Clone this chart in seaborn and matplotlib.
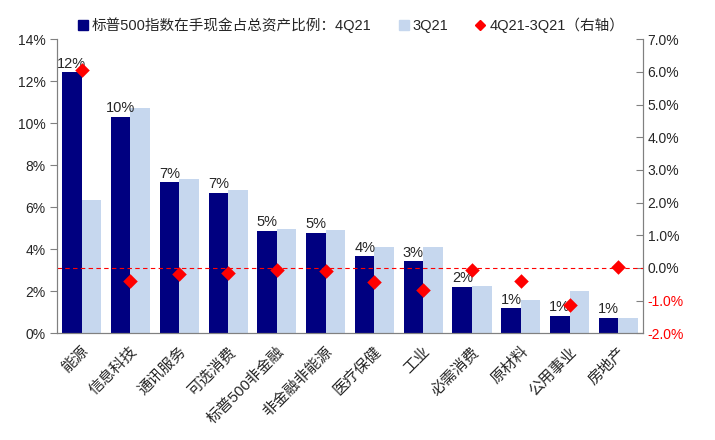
import numpy as np
import pandas as pd
import matplotlib.pyplot as plt
from matplotlib.lines import Line2D
from matplotlib.ticker import FixedLocator
import seaborn as sns

categories = ["能源", "信息科技", "通讯服务", "可选消费", "标普500非金融", "非金融非能源",
              "医疗保健", "工业", "必需消费", "原材料", "公用事业", "房地产"]
q4_21 = [12.44, 10.31, 7.19, 6.70, 4.89, 4.79, 3.68, 3.44, 2.21, 1.19, 0.84, 0.74]
q3_21 = [6.35, 10.71, 7.35, 6.82, 4.95, 4.90, 4.12, 4.12, 2.25, 1.59, 2.00, 0.71]
diff = [6.07, -0.41, -0.17, -0.14, -0.05, -0.10, -0.43, -0.66, -0.07, -0.39, -1.14, 0.03]
bar_labels = ["12%", "10%", "7%", "7%", "5%", "5%", "4%", "3%", "2%", "1%", "1%", "1%"]

s4_name = "标普500指数在手现金占总资产比例：4Q21"
s3_name = "3Q21"
d_name = "4Q21-3Q21（右轴）"

dark = "#000080"
light = "#c6d7ee"
grey = "#808080"

df = pd.DataFrame({
    "行业": categories * 2,
    "比例": q4_21 + q3_21,
    "季度": [s4_name] * len(categories) + [s3_name] * len(categories),
})

sns.set_style("white")
plt.rcParams["font.family"] = ["Liberation Sans", "Noto Sans CJK SC", "DejaVu Sans"]
plt.rcParams["axes.unicode_minus"] = False

fig = plt.figure(figsize=(7.15, 4.4), dpi=100)
ax = fig.add_axes([0.0801, 0.2425, 0.8189, 0.6682])

sns.barplot(data=df, x="行业", y="比例", hue="季度", palette=[dark, light],
            width=0.8, saturation=1, ax=ax, legend=False, linewidth=0)

ax.bar_label(ax.containers[0], labels=bar_labels, padding=1, fontsize=10.5)

ax.set_ylim(0, 14)
ax.set_yticks(np.arange(0, 15, 2))
ax.set_yticklabels([f"{v}%" for v in range(0, 15, 2)], fontsize=10)
ax.set_xlim(-0.5, len(categories) - 0.5)
ax.set_xlabel("")
ax.set_ylabel("")
ax.set_xticks(np.arange(len(categories)))
ax.set_xticklabels(categories, rotation=45, ha="right", rotation_mode="anchor", fontsize=11)
ax.tick_params(axis="x", which="major", length=0, pad=8)
ax.xaxis.set_minor_locator(FixedLocator(np.arange(-0.5, len(categories), 1)))
ax.tick_params(axis="x", which="minor", length=5, color=grey, direction="out")
ax.tick_params(axis="y", length=5, color=grey, direction="out", left=True)
for side in ["left", "bottom", "right"]:
    ax.spines[side].set_color(grey)
ax.spines["top"].set_visible(False)

ax2 = ax.twinx()
ax2.axhline(0, color="red", ls=(0, (4, 3)), lw=0.8, zorder=1)
sns.scatterplot(x=np.arange(len(categories)), y=diff, marker="D", color="red",
                s=55, linewidth=0, ax=ax2, zorder=3)
ax2.set_ylim(-2, 7)
ax2.set_yticks(np.arange(-2, 8, 1))
ax2.set_yticklabels([f"{v:.1f}%" for v in range(-2, 8)], fontsize=10)
for lab, v in zip(ax2.get_yticklabels(), range(-2, 8)):
    if v < 0:
        lab.set_color("red")
ax2.tick_params(axis="y", length=5, color=grey, direction="in", right=True)
for side in ["left", "bottom", "right"]:
    ax2.spines[side].set_color(grey)
ax2.spines["top"].set_visible(False)
ax2.set_ylabel("")

handles = [
    Line2D([], [], marker="s", color=dark, ls="", markersize=7),
    Line2D([], [], marker="s", color=light, ls="", markersize=7),
    Line2D([], [], marker="D", color="red", ls="", markersize=5),
]
fig.legend(handles, [s4_name, s3_name, d_name], loc="center left",
           bbox_to_anchor=(0.092, 0.943), ncol=3, frameon=False, fontsize=10.5,
           handlelength=0.6, handletextpad=0.3, columnspacing=1.9)

fig.savefig("out.png", dpi=100)
